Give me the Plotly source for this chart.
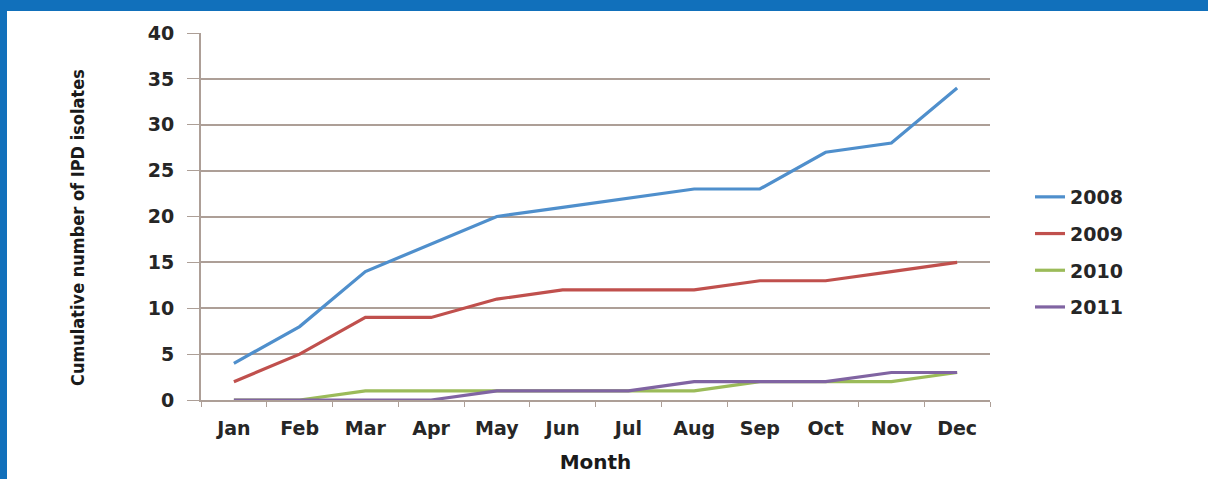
import plotly.graph_objects as go

months = ["Jan", "Feb", "Mar", "Apr", "May", "Jun", "Jul", "Aug", "Sep", "Oct", "Nov", "Dec"]
y2008 = [4, 8, 14, 17, 20, 21, 22, 23, 23, 27, 28, 34]
y2009 = [2, 5, 9, 9, 11, 12, 12, 12, 13, 13, 14, 15]
y2010 = [0, 0, 1, 1, 1, 1, 1, 1, 2, 2, 2, 3]
y2011 = [0, 0, 0, 0, 1, 1, 1, 2, 2, 2, 3, 3]
years = ["2008", "2009", "2010", "2011"]

colors = ["#4F8FCC", "#C0504D", "#9BBB59", "#8064A2"]
grid = "#AD9F97"
tickfont = dict(family="DejaVu Sans", size=19, color="#262626", weight="bold")

W, H = 1208, 479
L, R, T, B = 201, 218, 33, 79
pw, ph = W - L - R, H - T - B

fig = go.Figure()
for name, ys, c in zip(years, [y2008, y2009, y2010, y2011], colors):
    fig.add_trace(go.Scatter(x=months, y=ys, name=name, mode="lines",
                             line=dict(color=c, width=3.2), legendgroup=name))

fig.update_layout(
    width=W, height=H,
    margin=dict(l=L, r=R, t=T, b=B),
    paper_bgcolor="white", plot_bgcolor="white",
    showlegend=True,
    legend=dict(x=(1030 - L) / pw, y=(400 - 178) / ph, xanchor="left", yanchor="top",
                font=dict(family="DejaVu Sans", size=19, color="#262626", weight="bold"),
                tracegroupgap=9, bgcolor="rgba(0,0,0,0)"),
    xaxis=dict(type="category", range=[-0.5, 11.5], showgrid=False, automargin=False,
               showline=True, linecolor=grid, linewidth=2,
               ticks="outside", tickson="boundaries", ticklen=5, tickcolor=grid,
               tickfont=tickfont, ticklabelstandoff=10,
               title=dict(text="Month", standoff=17,
                          font=dict(family="DejaVu Sans", size=20, color="#1a1a1a", weight="bold"))),
    yaxis=dict(range=[0, 40], dtick=5, showgrid=True, gridcolor=grid, gridwidth=2, automargin=False,
               showline=True, linecolor=grid, linewidth=2, zeroline=False,
               ticks="outside", ticklen=12, tickcolor=grid,
               tickfont=tickfont, ticklabelstandoff=9),
    annotations=[dict(text="Cumulative number of IPD isolates", textangle=-90,
                      xref="paper", yref="paper", x=(77 - L) / pw, y=(400 - 228) / ph,
                      xanchor="center", yanchor="middle", showarrow=False,
                      font=dict(family="Liberation Sans Narrow, DejaVu Sans Condensed", size=18,
                                color="#1a1a1a", weight="bold"))],
    shapes=[
        dict(type="rect", xref="paper", yref="paper", x0=-L / pw, x1=(W - L) / pw,
             y0=1 + (T - 11) / ph, y1=1 + T / ph + 0.01, fillcolor="#1170BB", line_width=0, layer="above"),
        dict(type="rect", xref="paper", yref="paper", x0=-L / pw, x1=(7 - L) / pw,
             y0=-B / ph - 0.01, y1=1 + T / ph + 0.01, fillcolor="#1170BB", line_width=0, layer="above"),
    ],
)

fig.write_html("out.html", config={"displayModeBar": False},
               post_script="document.body.style.margin='0';")
